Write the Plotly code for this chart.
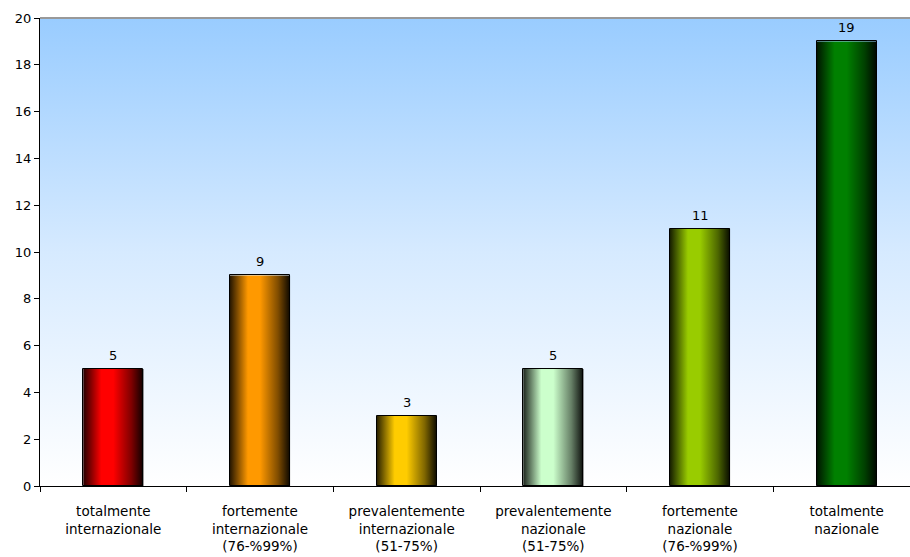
import plotly.graph_objects as go

categories = [
    "totalmente<br>internazionale",
    "fortemente<br>internazionale<br>(76-%99%)",
    "prevalentemente<br>internazionale<br>(51-75%)",
    "prevalentemente<br>nazionale<br>(51-75%)",
    "fortemente<br>nazionale<br>(76-%99%)",
    "totalmente<br>nazionale",
]
values = [5, 9, 3, 5, 11, 19]
bar_colors = ["#FF0000", "#FF9900", "#FFCC00", "#CCFFCC", "#99CC00", "#008000"]
y_ticks = [0, 2, 4, 6, 8, 10, 12, 14, 16, 18, 20]

BAR_W = 0.41
FONT = "DejaVu Sans"


def shade(hex_color, f):
    h = hex_color.lstrip("#")
    r, g, b = (int(h[i:i + 2], 16) for i in (0, 2, 4))
    return "rgb(%d,%d,%d)" % (r * f, g * f, b * f)


fig = go.Figure()

# plot-area background gradient (vertical)
n = len(categories)
fig.add_trace(go.Scatter(
    x=[-0.5, n - 0.5, n - 0.5, -0.5, -0.5],
    y=[y_ticks[0], y_ticks[0], y_ticks[-1], y_ticks[-1], y_ticks[0]],
    mode="none", fill="toself", hoverinfo="skip", showlegend=False,
    fillgradient=dict(type="vertical",
                      colorscale=[[0, "#FFFFFF"], [0.5, "#D6EAFF"], [1, "#99CCFF"]]),
    xaxis="x", yaxis="y",
))

# gradient fills for bars
for i, (v, c) in enumerate(zip(values, bar_colors)):
    x0, x1 = i - BAR_W / 2, i + BAR_W / 2
    fig.add_trace(go.Scatter(
        x=[x0, x0, x1, x1, x0], y=[0, v, v, 0, 0],
        mode="none", fill="toself", hoverinfo="skip", showlegend=False,
        fillgradient=dict(type="horizontal",
                          colorscale=[[0, shade(c, 0.15)], [0.3, c], [0.5, c],
                                      [0.8, shade(c, 0.5)], [1, shade(c, 0.05)]]),
        xaxis="x", yaxis="y",
    ))

# bar outlines
fig.add_trace(go.Bar(
    x=categories, y=values, width=BAR_W,
    marker=dict(color="rgba(0,0,0,0)", line=dict(color="#000000", width=1)),
    showlegend=False, xaxis="x2", yaxis="y",
))

# value labels
for cat, v in zip(categories, values):
    fig.add_annotation(x=cat, y=v, xref="x2", yref="y", text=str(v), showarrow=False,
                       yanchor="bottom", yshift=4,
                       font=dict(family=FONT, size=13, color="#000000"))

fig.update_layout(
    width=920, height=557,
    margin=dict(l=40, r=0, t=18, b=71, autoexpand=False),
    paper_bgcolor="white", plot_bgcolor="white",
    font=dict(family=FONT, size=13, color="#000000"),
    xaxis=dict(range=[-0.5, n - 0.5], visible=False, showgrid=False, zeroline=False),
    xaxis2=dict(type="category", range=[-0.5, n - 0.5], overlaying="x", anchor="y", side="bottom",
                showline=True, linecolor="#000000", linewidth=1,
                ticks="outside", tickson="boundaries", ticklen=5, tickcolor="#000000",
                ticklabelstandoff=13,
                showgrid=False, zeroline=False, automargin=False,
                tickfont=dict(family=FONT, size=13.5, color="#000000")),
    yaxis=dict(range=[y_ticks[0], y_ticks[-1]], tickvals=y_ticks, showgrid=False, zeroline=False,
               showline=True, linecolor="#000000", linewidth=1, automargin=False,
               ticks="outside", ticklen=5, tickcolor="#000000",
               tickfont=dict(family=FONT, size=13, color="#000000")),
    shapes=[dict(type="line", xref="paper", yref="paper", x0=0, x1=1, y0=1, y1=1,
                 line=dict(color="#999999", width=2))],
    bargap=0,
)

fig.write_html("out.html", config={"displayModeBar": False},
               post_script="document.body.style.margin='0';document.body.style.overflow='hidden';")
